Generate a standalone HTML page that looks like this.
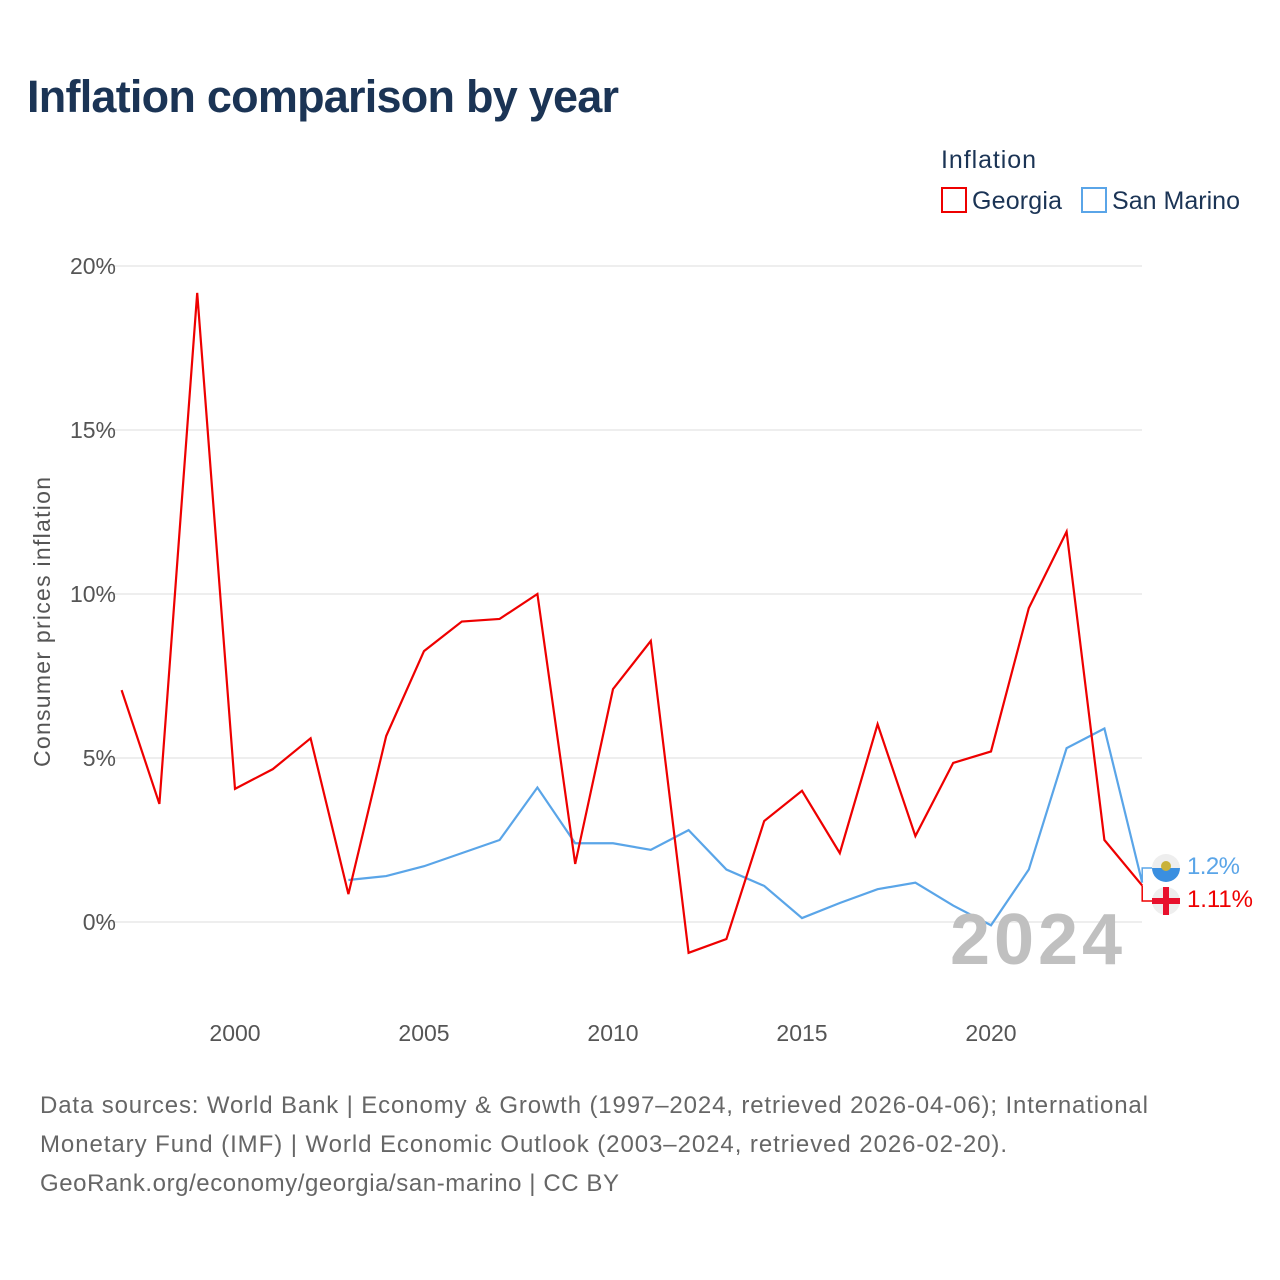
<!DOCTYPE html>
<html><head><meta charset="utf-8"><style>
body{margin:0;background:#fff;font-family:"Liberation Sans",sans-serif;}
#wrap{position:relative;width:1280px;height:1280px;overflow:hidden;}
</style></head><body>
<div id="wrap">
<svg id="svg" width="1280" height="1280" xmlns="http://www.w3.org/2000/svg">
<text x="27" y="112" font-size="45" font-weight="bold" fill="#1b3455" textLength="592">Inflation comparison by year</text>
<text x="941" y="168" font-size="25" fill="#1b3455" textLength="95">Inflation</text>
<g>
<rect x="942" y="188" width="24" height="24" fill="#fff" stroke="#ee0000" stroke-width="2"/>
<text x="972" y="209" font-size="25" fill="#1b3455" textLength="90">Georgia</text></g>
<g>
<rect x="1082" y="188" width="24" height="24" fill="#fff" stroke="#5aa5e8" stroke-width="2"/>
<text x="1112" y="209" font-size="25" fill="#1b3455" textLength="128">San Marino</text></g>
<g id="grid"></g><g id="series"></g>
<text x="950" y="964" font-size="72" font-weight="bold" fill="#c0c0c0" textLength="172">2024</text>
<text transform="translate(50,622) rotate(-90)" font-size="23" fill="#555" text-anchor="middle" textLength="290">Consumer prices inflation</text>
<g font-size="24" fill="#666">
<text x="40" y="1113" textLength="1108">Data sources: World Bank | Economy &amp; Growth (1997–2024, retrieved 2026-04-06); International</text>
<text x="40" y="1152" textLength="967">Monetary Fund (IMF) | World Economic Outlook (2003–2024, retrieved 2026-02-20).</text>
<text x="40" y="1191" textLength="579">GeoRank.org/economy/georgia/san-marino | CC BY</text></g>
</svg></div>
<script>
const georgiaYears=[1997,1998,1999,2000,2001,2002,2003,2004,2005,2006,2007,2008,2009,2010,2011,2012,2013,2014,2015,2016,2017,2018,2019,2020,2021,2022,2023,2024];
const georgiaValues=[7.07,3.6,19.18,4.06,4.66,5.6,0.85,5.67,8.26,9.16,9.24,10.0,1.77,7.1,8.57,-0.94,-0.52,3.08,4.0,2.1,6.03,2.62,4.85,5.2,9.57,11.9,2.5,1.11];
const smYears=[2003,2004,2005,2006,2007,2008,2009,2010,2011,2012,2013,2014,2015,2016,2017,2018,2019,2020,2021,2022,2023,2024];
const smValues=[1.28,1.4,1.7,2.1,2.5,4.1,2.4,2.4,2.2,2.8,1.6,1.1,0.12,0.58,1.0,1.2,0.5,-0.1,1.6,5.3,5.9,1.2];
const yTicks=[0,5,10,15,20];
const yTickLabels=["0%","5%","10%","15%","20%"];
const xTicks=[2000,2005,2010,2015,2020];
const xTickLabels=["2000","2005","2010","2015","2020"];
const endLabels=["1.11%","1.2%"];
const NS="http://www.w3.org/2000/svg";
const x=v=>235+(v-2000)*37.8;
const y=v=>922-v*32.8;
function mk(t,a,p){const e=document.createElementNS(NS,t);for(const k in a)e.setAttribute(k,a[k]);p.appendChild(e);return e;}
const grid=document.getElementById('grid'),ser=document.getElementById('series');
yTicks.forEach((t,i)=>{
 const l=mk('line',{x1:100,x2:1142,y1:y(t),y2:y(t),stroke:'#e8e8e8','stroke-width':1.5},grid);
 
 
 const tx=mk('text',{x:116,y:y(t)+8,'font-size':23,fill:'#555','text-anchor':'end'},grid);
 tx.textContent=yTickLabels[i];
 
 
});
xTicks.forEach((t,i)=>{
 const tx=mk('text',{x:x(t),y:1041,'font-size':23,fill:'#555','text-anchor':'middle'},grid);
 tx.textContent=xTickLabels[i];
 
 
});
function line(ys,vs,col,name){
 const p=mk('polyline',{points:ys.map((yr,i)=>x(yr)+','+y(vs[i])).join(' '),fill:'none',stroke:col,'stroke-width':2.2,'stroke-linejoin':'miter'},ser);
 
 
}
line(smYears,smValues,'#5aa5e8','san-marino-line');
line(georgiaYears,georgiaValues,'#ee0000','georgia-line');
const gx=x(georgiaYears[georgiaYears.length-1]),gy=y(georgiaValues[georgiaValues.length-1]);
const sx=x(smYears[smYears.length-1]),sy=y(smValues[smValues.length-1]);
mk('polyline',{points:`${gx},${gy} ${gx},901 1152,901`,fill:'none',stroke:'#ee0000','stroke-width':1.5},ser);
mk('polyline',{points:`${sx},${sy} ${sx},868 1152,868`,fill:'none',stroke:'#5aa5e8','stroke-width':1.5},ser);
const f1=mk('g',{},ser);


mk('circle',{cx:1166,cy:868,r:14,fill:'#eee'},f1);
mk('path',{d:'M1152,868 A14,14 0 0 0 1180,868 Z',fill:'#3a8fe0'},f1);
mk('circle',{cx:1166,cy:866,r:5,fill:'#c9b23a'},f1);
const f2=mk('g',{},ser);


mk('circle',{cx:1166,cy:901,r:14,fill:'#eee'},f2);
mk('rect',{x:1163,y:887,width:6,height:28,fill:'#e8112d'},f2);
mk('rect',{x:1152,y:898,width:28,height:6,fill:'#e8112d'},f2);
const t1=mk('text',{x:1187,y:874,'font-size':24,fill:'#5aa5e8',textLength:53},ser);
t1.textContent=endLabels[1];


const t2=mk('text',{x:1187,y:907,'font-size':24,fill:'#ee0000',textLength:66},ser);
t2.textContent=endLabels[0];


</script></body></html>
